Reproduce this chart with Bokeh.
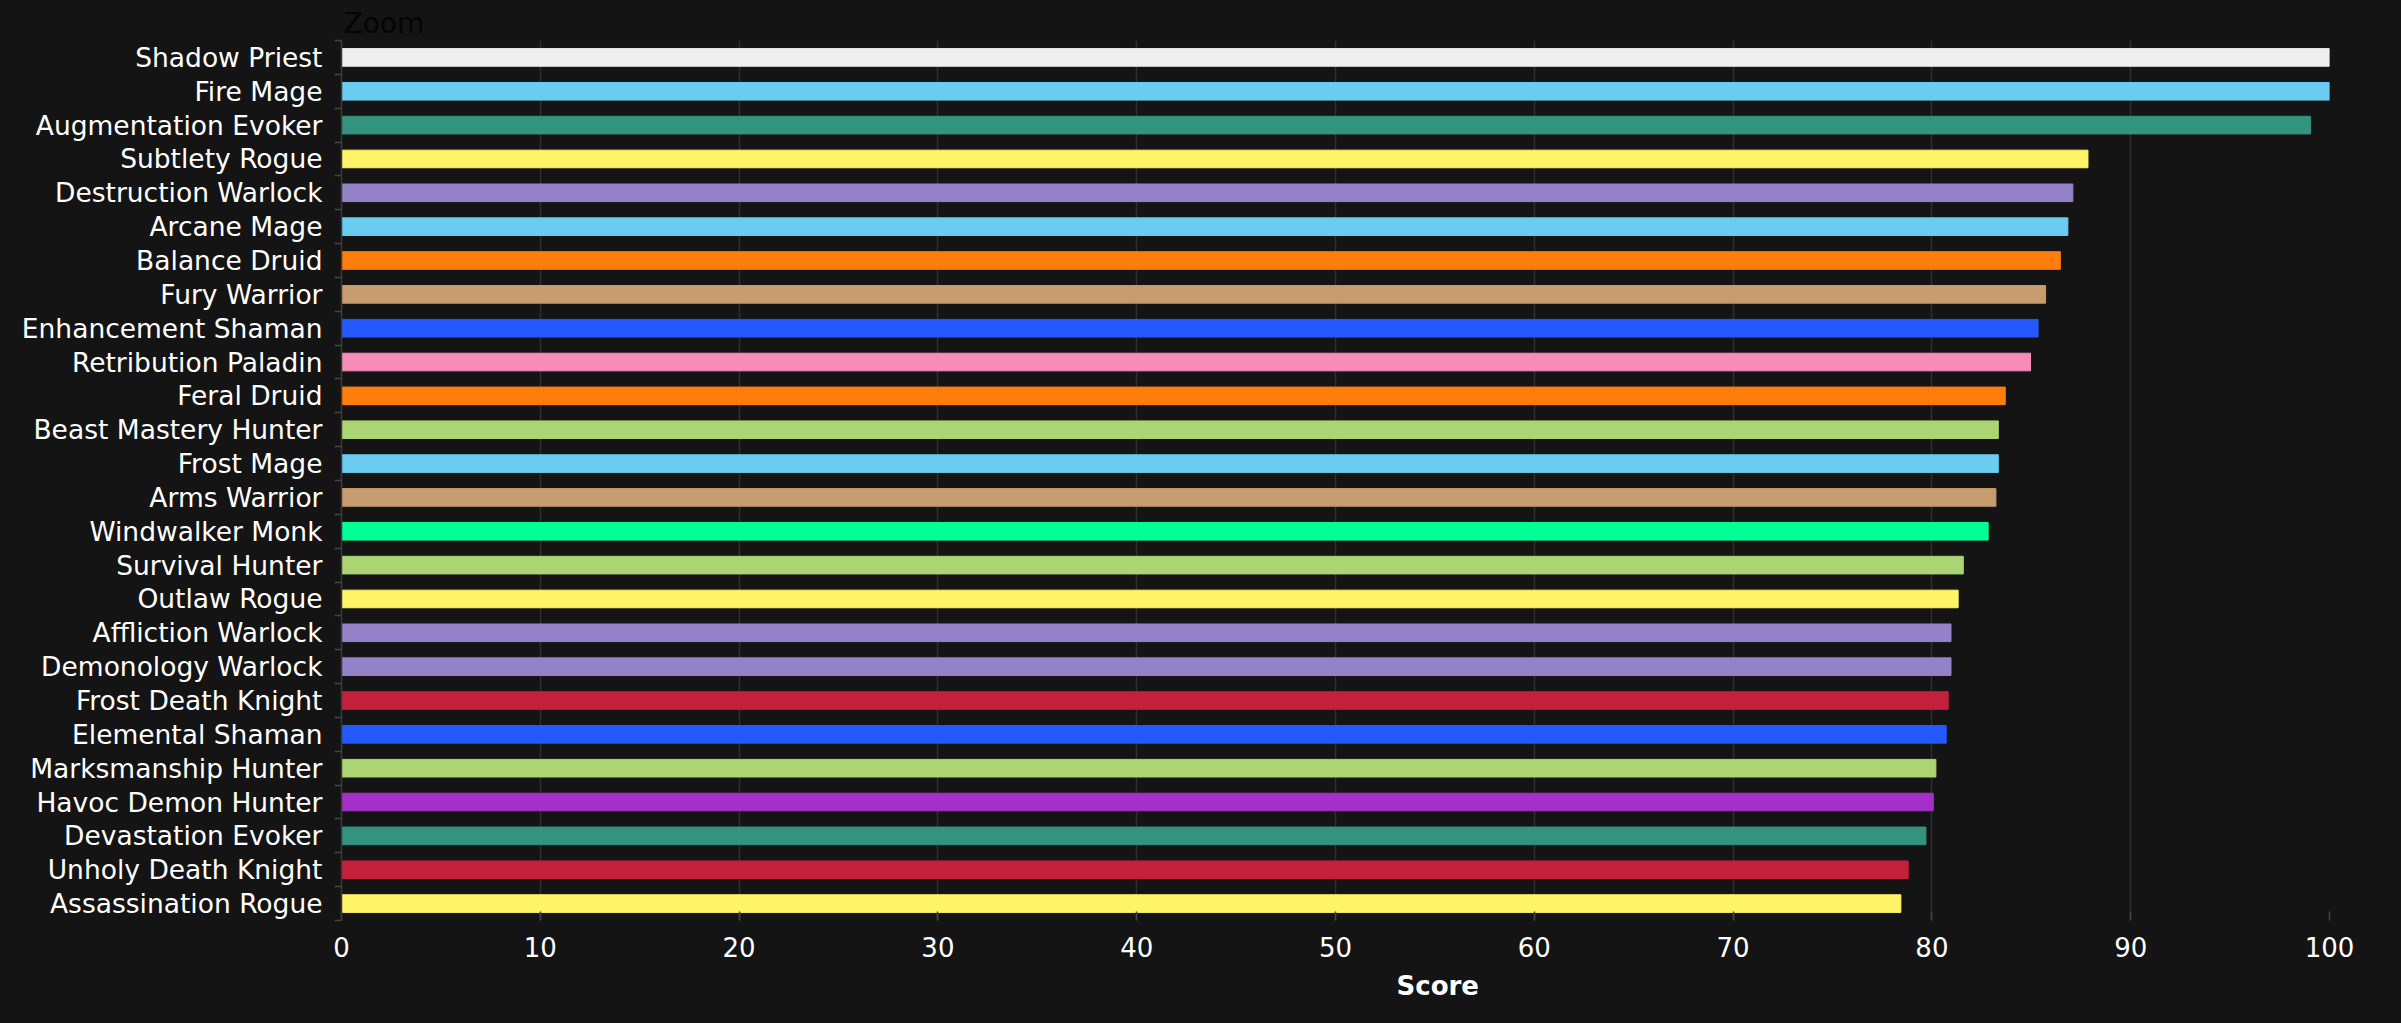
from bokeh.plotting import figure
from bokeh.models import Range1d, FixedTicker, Title, ColumnDataSource
from bokeh.embed import file_html
from bokeh.resources import INLINE

specs = ["Shadow Priest", "Fire Mage", "Augmentation Evoker", "Subtlety Rogue",
         "Destruction Warlock", "Arcane Mage", "Balance Druid", "Fury Warrior",
         "Enhancement Shaman", "Retribution Paladin", "Feral Druid",
         "Beast Mastery Hunter", "Frost Mage", "Arms Warrior", "Windwalker Monk",
         "Survival Hunter", "Outlaw Rogue", "Affliction Warlock",
         "Demonology Warlock", "Frost Death Knight", "Elemental Shaman",
         "Marksmanship Hunter", "Havoc Demon Hunter", "Devastation Evoker",
         "Unholy Death Knight", "Assassination Rogue"]
scores = [100.0, 100.0, 99.05, 87.85, 87.09, 86.84, 86.46, 85.72, 85.34, 84.96,
          83.69, 83.34, 83.34, 83.22, 82.83, 81.58, 81.32, 80.96, 80.96, 80.82,
          80.72, 80.20, 80.07, 79.70, 78.81, 78.44]
classes = ["Priest", "Mage", "Evoker", "Rogue", "Warlock", "Mage", "Druid",
           "Warrior", "Shaman", "Paladin", "Druid", "Hunter", "Mage", "Warrior",
           "Monk", "Hunter", "Rogue", "Warlock", "Warlock", "Death Knight",
           "Shaman", "Hunter", "Demon Hunter", "Evoker", "Death Knight", "Rogue"]
class_colors = {"Priest": "#eeeeee", "Mage": "#69ccf0", "Evoker": "#33937f",
                "Rogue": "#fff468", "Warlock": "#9482c9", "Druid": "#ff7d0a",
                "Warrior": "#c79c6e", "Shaman": "#2459ff", "Paladin": "#f58cba",
                "Hunter": "#abd473", "Monk": "#00ff96", "Death Knight": "#c41f3b",
                "Demon Hunter": "#a330c9"}
x_ticks = [0, 10, 20, 30, 40, 50, 60, 70, 80, 90, 100]
x_title = "Score"
chart_title = "Zoom"

BG = "#141414"
FONT = "DejaVu Sans"
n = len(specs)
ypos = [n - 1 - i + 0.5 for i in range(n)]
src = ColumnDataSource(dict(y=ypos, score=scores, spec=specs,
                            color=[class_colors[c] for c in classes]))

p = figure(width=2400, height=1022, output_backend="svg", toolbar_location=None,
           x_range=Range1d(0, 100), y_range=Range1d(0, n),
           min_border_left=341, min_border_right=71, min_border_top=40,
           min_border_bottom=102)
p.background_fill_color = BG
p.border_fill_color = BG
p.outline_line_color = None

p.title.text = chart_title
p.title.align = "left"
p.title.offset = 2
p.title.text_color = "#050505"
p.title.text_font = FONT
p.title.text_font_size = "28px"
p.title.text_font_style = "normal"
p.title.standoff = 2

p.hbar(y="y", right="score", left=0, height=0.52, source=src,
       fill_color="color", line_color="color", line_width=1)

# x axis
p.xaxis.ticker = FixedTicker(ticks=x_ticks)
p.xaxis.axis_line_color = None
p.xaxis.major_tick_out = 0
p.xaxis.major_tick_in = 9
p.xaxis.major_tick_line_color = "#444444"
p.xaxis.major_tick_line_width = 1.5
p.xaxis.minor_tick_line_color = None
p.xaxis.major_label_text_color = "#ffffff"
p.xaxis.major_label_text_font = FONT
p.xaxis.major_label_text_font_size = "26px"
p.xaxis.major_label_standoff = 16

# y axis: labels at centres, small ticks at band boundaries
p.yaxis.ticker = FixedTicker(ticks=ypos, minor_ticks=list(range(n + 1)))
p.yaxis.major_label_overrides = {y: s for y, s in zip(ypos, specs)}
p.yaxis.major_tick_line_color = None
p.yaxis.major_tick_out = 0
p.yaxis.major_tick_in = 0
p.yaxis.minor_tick_line_color = "#444444"
p.yaxis.minor_tick_line_width = 1.5
p.yaxis.minor_tick_out = 7
p.yaxis.minor_tick_in = 0
p.yaxis.axis_line_color = "#3a3a3a"
p.yaxis.axis_line_width = 1.5
p.yaxis.major_label_text_color = "#ffffff"
p.yaxis.major_label_text_font = FONT
p.yaxis.major_label_text_font_size = "26.5px"
p.yaxis.major_label_standoff = 12

p.xgrid.ticker = FixedTicker(ticks=x_ticks)
p.xgrid.grid_line_color = "#2e2e2e"
p.xgrid.grid_line_width = 1.5
p.ygrid.grid_line_color = None

score_title = Title(text=x_title, align="left", offset=1055,
                    vertical_align="top", standoff=22,
                    text_color="#ffffff", text_font=FONT,
                    text_font_size="26px", text_font_style="bold")
p.add_layout(score_title, "below")

html = file_html(p, INLINE)
html = html.replace("</head>", "<style>body{background:#141414;}</style></head>", 1)
open("out.html", "w").write(html)
